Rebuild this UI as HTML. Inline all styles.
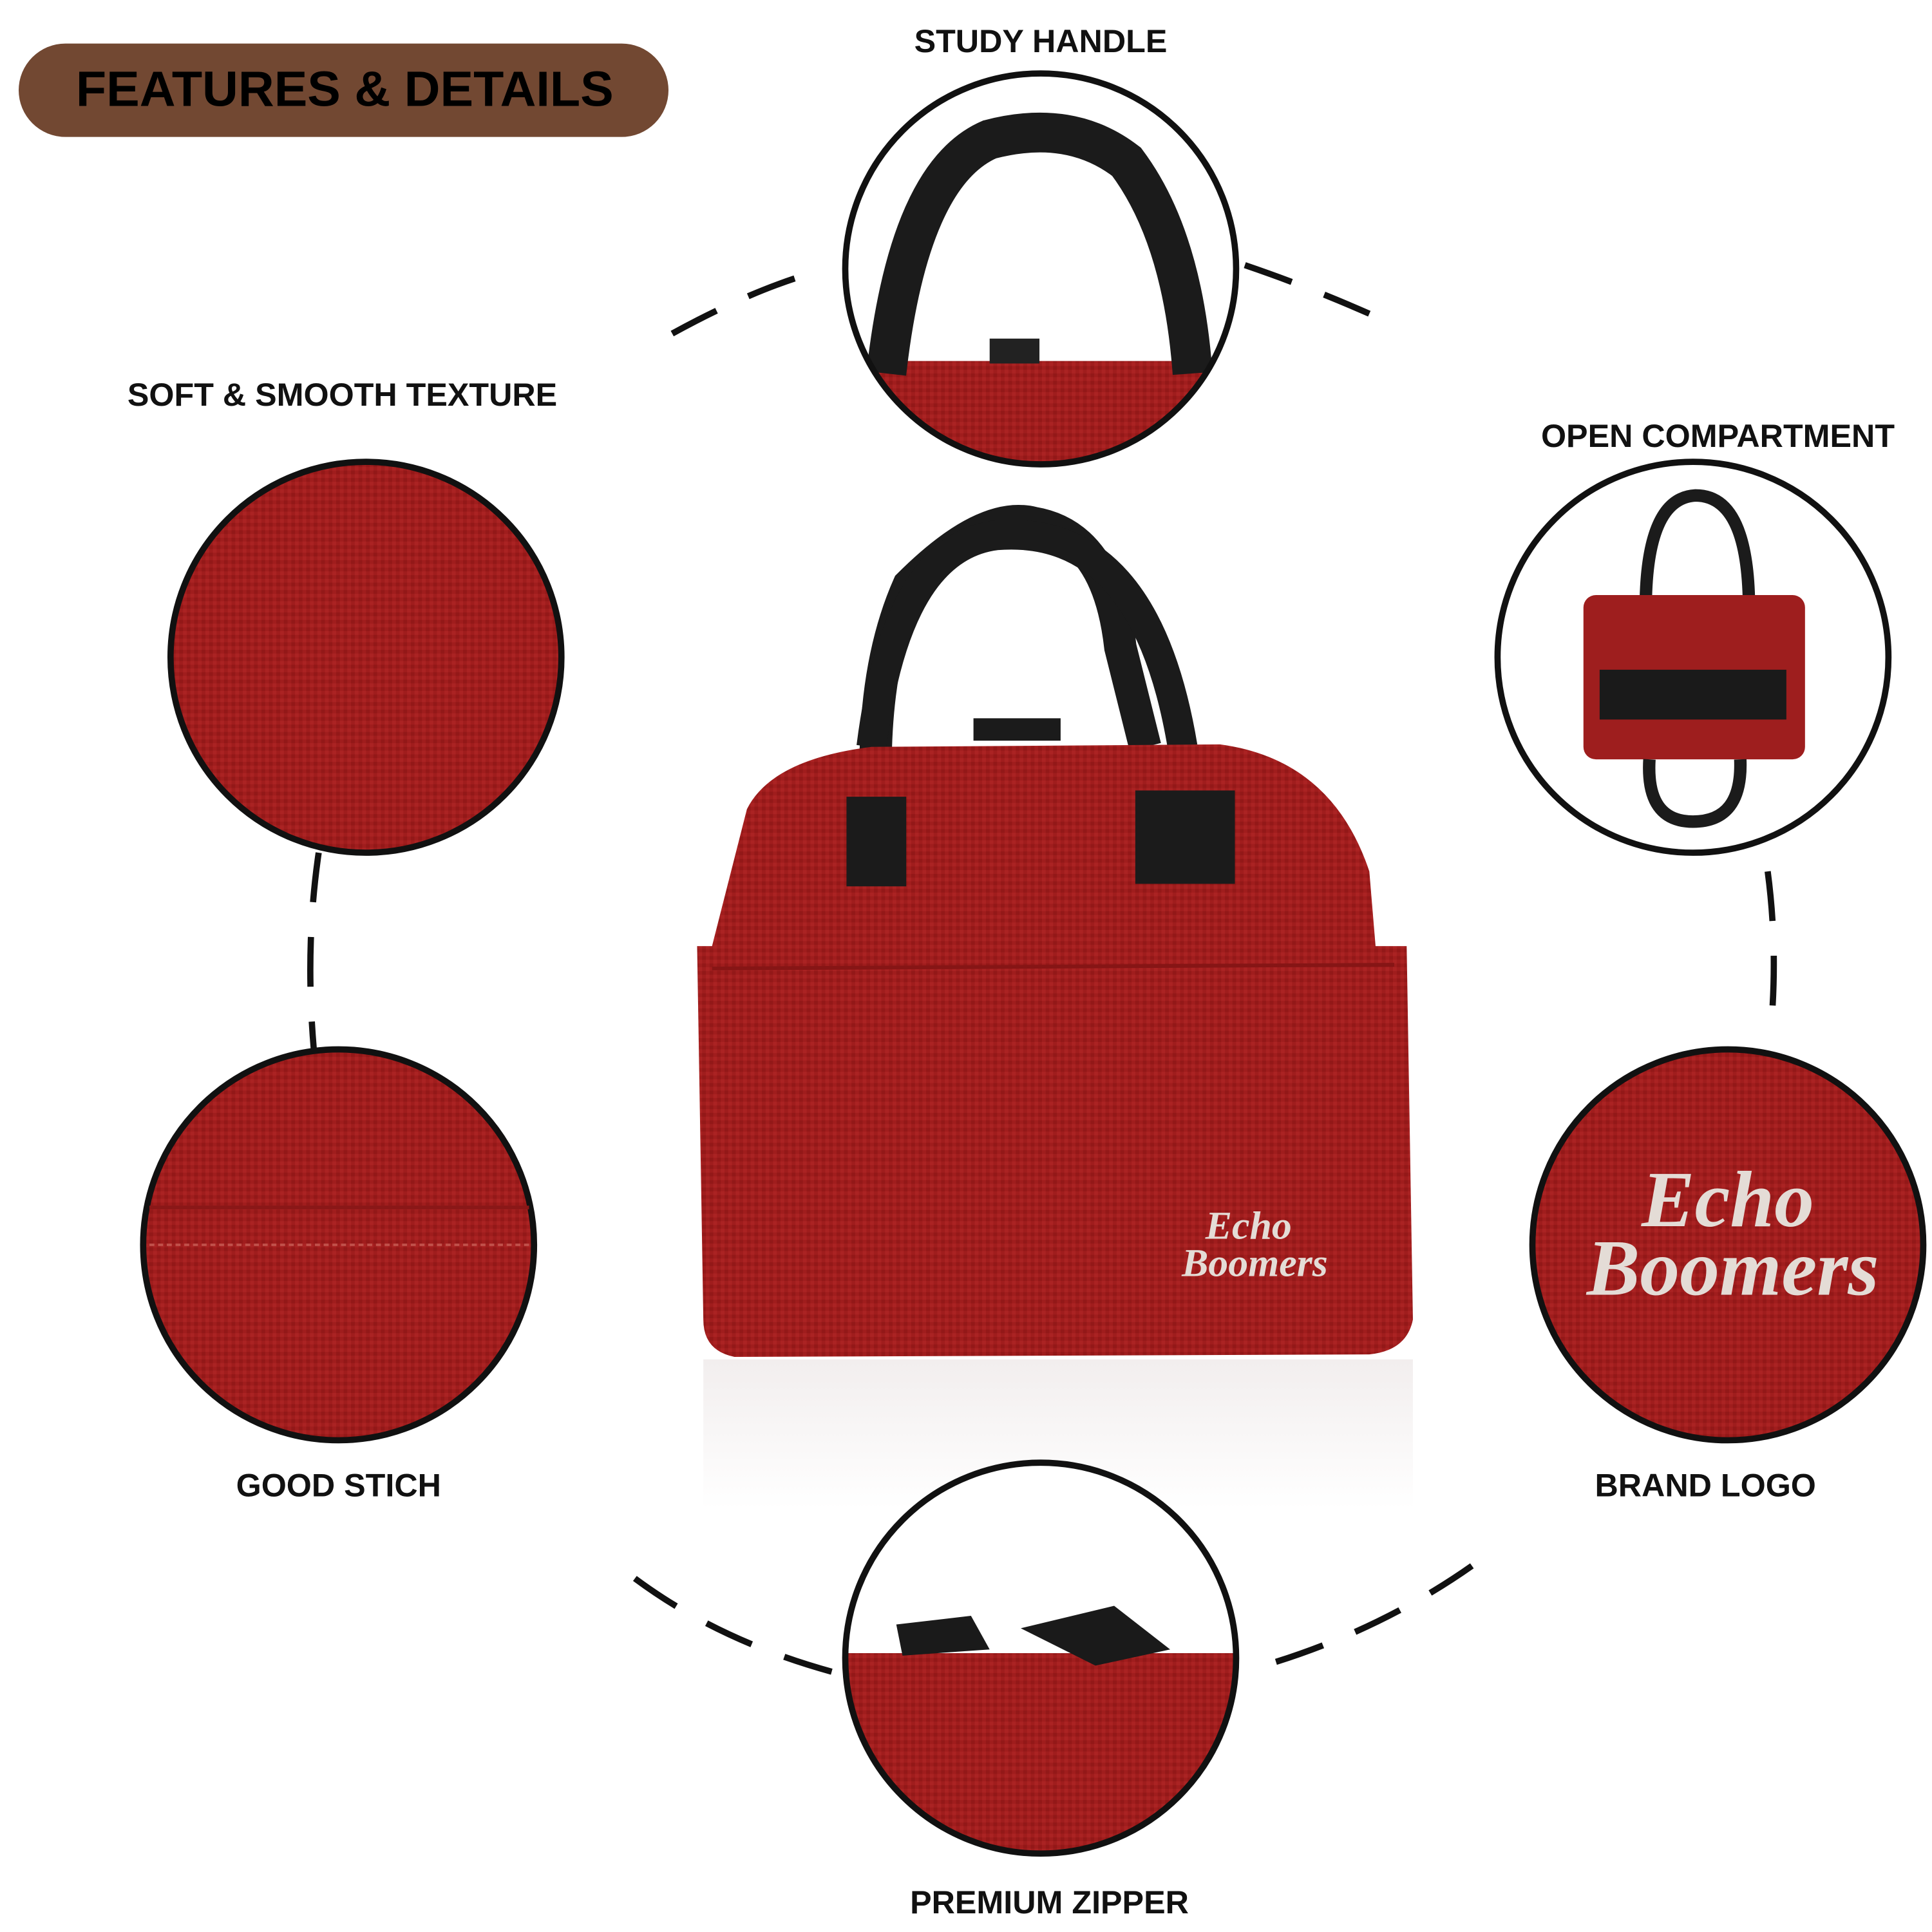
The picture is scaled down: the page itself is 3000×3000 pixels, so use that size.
<!DOCTYPE html>
<html><head><meta charset="utf-8"><style>
html,body{margin:0;padding:0;background:#fff;}
#root{width:1552px;height:1552px;position:relative;transform:scale(1.93299);transform-origin:0 0;font-family:"Liberation Sans",sans-serif;}
.lbl{position:absolute;font-weight:bold;font-size:26px;color:#111;text-align:center;width:500px;white-space:nowrap;}
.pill{position:absolute;left:15px;top:35px;width:522px;height:75px;border-radius:38px;background:#724832;}
.pill span{position:absolute;left:46px;top:15px;font-size:40px;font-weight:bold;color:#000;}
</style></head><body>
<div id="root">
<div class="pill"><span>FEATURES &amp; DETAILS</span></div>
<div class="lbl" style="left:586px;top:18px">STUDY HANDLE</div>
<div class="lbl" style="left:25px;top:302px">SOFT &amp; SMOOTH TEXTURE</div>
<div class="lbl" style="left:1130px;top:335px">OPEN COMPARTMENT</div>
<div class="lbl" style="left:22px;top:1178px">GOOD STICH</div>
<div class="lbl" style="left:1120px;top:1178px">BRAND LOGO</div>
<div class="lbl" style="left:593px;top:1513px">PREMIUM ZIPPER</div>
<svg width="1552" height="1552" style="position:absolute;left:0;top:0">
<defs>
<pattern id="tx" width="6" height="6" patternUnits="userSpaceOnUse">
<rect width="6" height="6" fill="#a01d1d"/><rect width="3" height="3" fill="#931818"/><rect x="3" y="3" width="3" height="3" fill="#ab2323"/>
</pattern>
<linearGradient id="rf" x1="0" y1="0" x2="0" y2="1"><stop offset="0" stop-color="#f2eeee"/><stop offset="1" stop-color="#fff"/></linearGradient>
<clipPath id="c1"><circle cx="836" cy="216" r="156"/></clipPath>
<clipPath id="c6"><circle cx="836" cy="1332" r="156"/></clipPath>
</defs>
<g stroke="#111" stroke-width="5" fill="none" stroke-dasharray="40 28">
<path d="M540 268 Q600 235 650 220"/>
<path d="M1000 213 Q1050 230 1100 252"/>
<path d="M256 685 Q245 760 252 842"/>
<path d="M1420 700 Q1428 760 1423 822"/>
<path d="M510 1268 Q580 1320 676 1345"/>
<path d="M1025 1335 Q1120 1305 1196 1248"/>
</g>
<rect x="565" y="1092" width="570" height="120" fill="url(#rf)"/>
<circle cx="294" cy="528" r="157" fill="url(#tx)" stroke="#111" stroke-width="5"/>
<circle cx="272" cy="1000" r="157" fill="url(#tx)" stroke="#111" stroke-width="5"/>
<line x1="120" y1="970" x2="425" y2="970" stroke="#8a1717" stroke-width="3"/>
<line x1="120" y1="1000" x2="425" y2="1000" stroke="#c0504a" stroke-width="2" stroke-dasharray="4 3"/>
<circle cx="1388" cy="1000" r="157" fill="url(#tx)" stroke="#111" stroke-width="5"/>
<text x="1388" y="985" text-anchor="middle" font-family="Liberation Serif,serif" font-style="italic" font-weight="bold" font-size="64" fill="#e4dcd6">Echo</text>
<text x="1392" y="1040" text-anchor="middle" font-family="Liberation Serif,serif" font-style="italic" font-weight="bold" font-size="64" fill="#e4dcd6">Boomers</text>
<circle cx="836" cy="216" r="157" fill="#fff"/>
<g clip-path="url(#c1)">
<rect x="680" y="290" width="320" height="100" fill="url(#tx)"/>
<path d="M712 300 Q730 140 795 112 Q860 95 905 130 Q950 190 958 300" stroke="#1b1b1b" stroke-width="32" fill="none"/>
<rect x="795" y="272" width="40" height="20" fill="#222"/>
</g>
<circle cx="836" cy="216" r="157" fill="none" stroke="#111" stroke-width="5"/>
<circle cx="1360" cy="528" r="157" fill="#fff" stroke="#111" stroke-width="5"/>
<path d="M1322 490 Q1322 400 1362 398 Q1405 398 1405 490" stroke="#1b1b1b" stroke-width="10" fill="none"/>
<rect x="1272" y="478" width="178" height="132" rx="10" fill="#9e1e1e"/>
<rect x="1285" y="538" width="150" height="40" fill="#1a1a1a"/>
<path d="M1325 610 Q1322 660 1360 660 Q1400 660 1398 610" stroke="#1b1b1b" stroke-width="10" fill="none"/>
<circle cx="836" cy="1332" r="157" fill="#fff"/>
<g clip-path="url(#c6)">
<rect x="676" y="1328" width="330" height="170" fill="url(#tx)"/>
<path d="M720 1305 L780 1298 L795 1325 L725 1330 Z" fill="#1a1a1a"/>
<path d="M820 1308 L895 1290 L940 1325 L880 1338 Z" fill="#1a1a1a"/>
</g>
<circle cx="836" cy="1332" r="157" fill="none" stroke="#111" stroke-width="5"/>
<path d="M710 710 Q690 560 730 470 Q790 410 830 420 Q890 430 900 520 L920 600" stroke="#1b1b1b" stroke-width="26" fill="none"/>
<path d="M700 600 Q720 440 800 430 Q920 420 950 600" stroke="#1b1b1b" stroke-width="24" fill="none"/>
<path d="M600 650 Q620 610 700 600 L980 598 Q1070 610 1100 700 L1105 760 L1130 760 L1135 1060 Q1130 1085 1100 1088 L590 1090 Q565 1085 565 1060 L560 760 L572 760 Z" fill="url(#tx)"/>
<line x1="572" y1="778" x2="1120" y2="775" stroke="#861515" stroke-width="3"/>
<rect x="680" y="640" width="48" height="72" fill="#1b1b1b"/>
<rect x="912" y="635" width="80" height="75" fill="#1b1b1b"/>
<rect x="782" y="577" width="70" height="18" fill="#1b1b1b"/>
<text x="1003" y="995" text-anchor="middle" font-family="Liberation Serif,serif" font-style="italic" font-weight="bold" font-size="32" fill="#e4dcd6">Echo</text>
<text x="1008" y="1025" text-anchor="middle" font-family="Liberation Serif,serif" font-style="italic" font-weight="bold" font-size="32" fill="#e4dcd6">Boomers</text>
</svg>
</div>
</body></html>
